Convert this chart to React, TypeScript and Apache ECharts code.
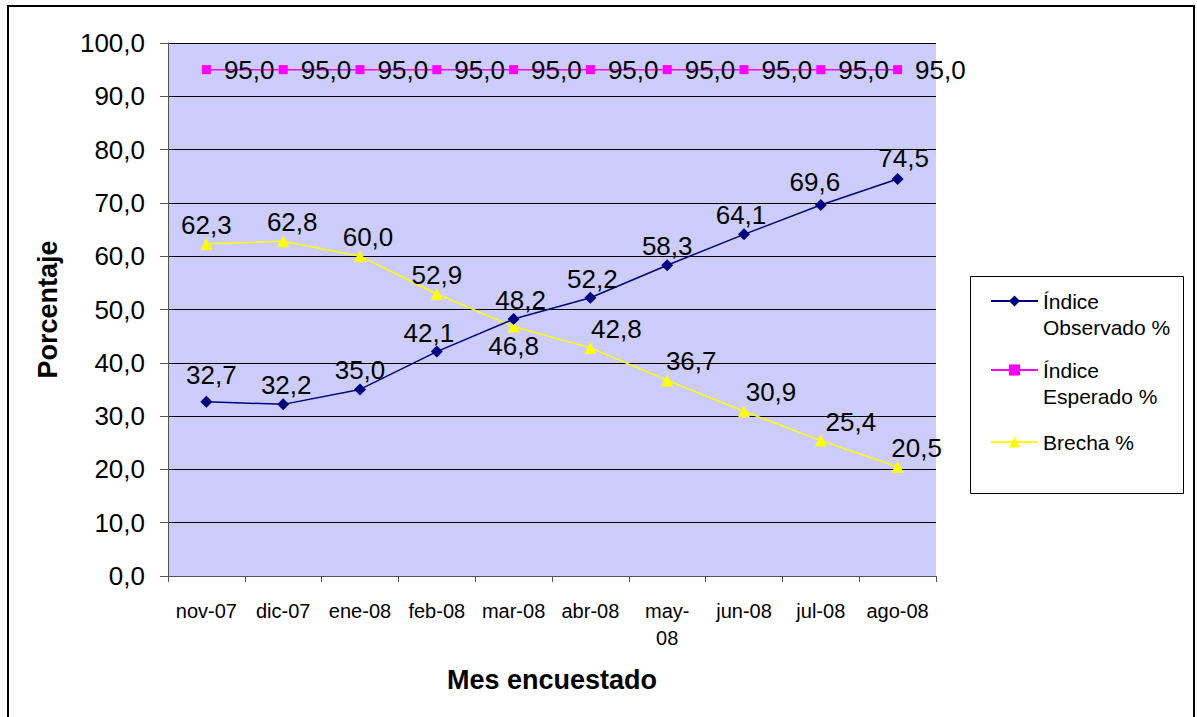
import React, { useEffect, useRef } from "react";
import * as echarts from "echarts";

const categories = ["nov-07", "dic-07", "ene-08", "feb-08", "mar-08", "abr-08", "may-08", "jun-08", "jul-08", "ago-08"];
const observado = [32.7, 32.2, 35.0, 42.1, 48.2, 52.2, 58.3, 64.1, 69.6, 74.5];
const esperado = [95.0, 95.0, 95.0, 95.0, 95.0, 95.0, 95.0, 95.0, 95.0, 95.0];
const brecha = [62.3, 62.8, 60.0, 52.9, 46.8, 42.8, 36.7, 30.9, 25.4, 20.5];
const seriesNames = ["Índice Observado %", "Índice Esperado %", "Brecha %"];
const yAxisTitle = "Porcentaje";
const xAxisTitle = "Mes encuestado";

// label placement styling (not data)
const brechaLabelPos = ["top", "top", "top", "top", "bottom", "top", "top", "top", "top", "top"];
const brechaLabelDx = [0, 9, 8, 0, 0, 26, 24, 27, 30, 19];
const observadoLabelDx = [5, 3, 0, -8, 7, 2, 0, -3, -6, 6];
const observadoLabelDy = [-8, 0, 0, 0, 0, 0, 0, 0, -4, -2];

const FONT = 'Arial, "Liberation Sans", sans-serif';
const fmt = (v: number) => v.toFixed(1).replace(".", ",");

export default function App() {
  const ref = useRef<HTMLDivElement>(null);
  useEffect(() => {
    if (!ref.current) return;
    const chart = echarts.init(ref.current, null, { renderer: "svg" });
    const labelBase = { color: "#000", fontFamily: FONT, fontSize: 26 };
    const legendCommon = {
      orient: "vertical" as const,
      left: 990,
      padding: 0,
      itemWidth: 47,
      itemHeight: 14,
      itemGap: 0,
      selectedMode: false,
      textStyle: { color: "#000", fontFamily: FONT, fontSize: 21, lineHeight: 26 },
    };
    const wrap = (n: string) => "\n" + n.replace("Índice ", "Índice\n");
    chart.setOption({
      animation: false,
      backgroundColor: "#fff",
      grid: {
        left: 168,
        top: 43,
        right: 261,
        bottom: 141,
        show: true,
        backgroundColor: "#CCCCFF",
        borderWidth: 0,
      },
      legend: [
        { ...legendCommon, top: 262, data: [seriesNames[0]], formatter: wrap },
        { ...legendCommon, top: 331, data: [seriesNames[1]], formatter: wrap },
        { ...legendCommon, top: 429, data: [seriesNames[2]] },
      ],
      graphic: [
        {
          type: "rect",
          shape: { x: 8, y: 6, width: 1186, height: 730 },
          style: { fill: "none", stroke: "#000", lineWidth: 2 },
          silent: true,
        },
        {
          type: "rect",
          shape: { x: 970.5, y: 276.5, width: 213, height: 217 },
          style: { fill: "none", stroke: "#000", lineWidth: 1 },
          silent: true,
        },
      ],
      xAxis: {
        type: "category",
        data: categories,
        boundaryGap: true,
        name: xAxisTitle,
        nameLocation: "middle",
        nameGap: 90,
        nameTextStyle: { color: "#000", fontFamily: FONT, fontSize: 27, fontWeight: "bold" },
        axisLine: { show: true, lineStyle: { color: "#555", width: 1 } },
        axisTick: { show: true, alignWithLabel: false, length: 6, lineStyle: { color: "#555" } },
        axisLabel: {
          color: "#000",
          fontFamily: FONT,
          fontSize: 20,
          lineHeight: 27,
          margin: 21,
          interval: 0,
          verticalAlign: "top",
          formatter: (v: string) => (v === "may-08" ? "may-\n08" : v),
        },
        splitLine: { show: false },
      },
      yAxis: {
        type: "value",
        min: 0,
        max: 100,
        interval: 10,
        name: yAxisTitle,
        nameLocation: "middle",
        nameGap: 107,
        nameTextStyle: { color: "#000", fontFamily: FONT, fontSize: 27, fontWeight: "bold" },
        axisLine: { show: true, lineStyle: { color: "#555", width: 1 } },
        axisTick: { show: true, length: 8, lineStyle: { color: "#555" } },
        axisLabel: { color: "#000", fontFamily: FONT, fontSize: 26, margin: 23, formatter: fmt },
        splitLine: { show: true, lineStyle: { color: "#000", width: 1 } },
      },
      series: [
        {
          name: seriesNames[0],
          type: "line",
          data: observado.map((v, i) => ({
            value: v,
            label: { offset: [observadoLabelDx[i], observadoLabelDy[i]] },
          })),
          symbol: "diamond",
          symbolSize: 12,
          itemStyle: { color: "#000080" },
          lineStyle: { color: "#000080", width: 1.5 },
          label: { show: true, position: "top", distance: 0, ...labelBase, formatter: (p: any) => fmt(p.value) },
          z: 3,
        },
        {
          name: seriesNames[1],
          type: "line",
          data: esperado,
          symbol: "rect",
          symbolSize: 9,
          itemStyle: { color: "#FF00FF" },
          lineStyle: { color: "#FF00FF", width: 1.5 },
          label: { show: true, position: "right", distance: 13, ...labelBase, formatter: (p: any) => fmt(p.value) },
          z: 3,
        },
        {
          name: seriesNames[2],
          type: "line",
          data: brecha.map((v, i) => ({
            value: v,
            label: { position: brechaLabelPos[i], offset: [brechaLabelDx[i], 0] },
          })),
          symbol: "triangle",
          symbolSize: 12,
          itemStyle: { color: "#FFFF00" },
          lineStyle: { color: "#FFFF00", width: 1.5 },
          label: { show: true, position: "top", distance: 0, ...labelBase, formatter: (p: any) => fmt(p.value) },
          z: 2,
        },
      ],
    });
    return () => chart.dispose();
  }, []);
  return (
    <div
      ref={ref}
      style={{ position: "absolute", left: 0, top: 0, width: 1197, height: 717 }}
    />
  );
}
